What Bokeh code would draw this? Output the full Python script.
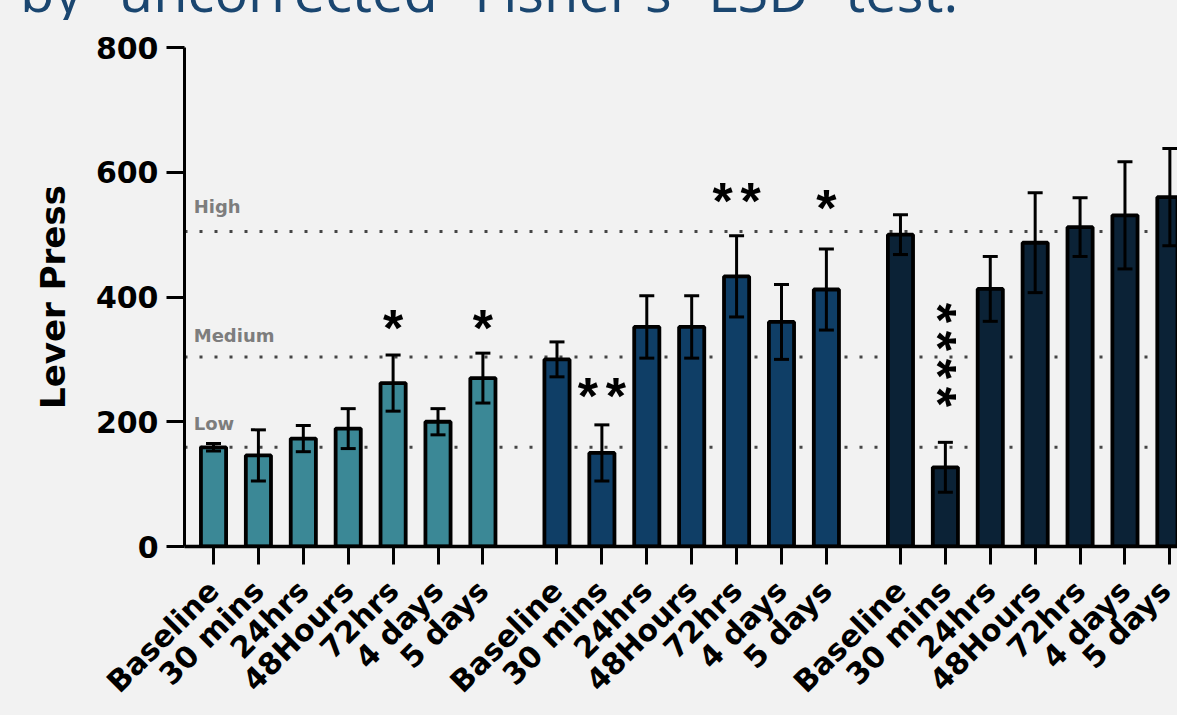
import math

from bokeh.core.properties import value
from bokeh.embed import file_html
from bokeh.layouts import column
from bokeh.models import ColumnDataSource, Div, FixedTicker, Label, Range1d, Span, TeeHead, Whisker
from bokeh.plotting import figure
from bokeh.resources import INLINE

# Time points, repeated for each of the three dose groups
timepoints = ["Baseline", "30 mins", "24hrs", "48Hours", "72hrs", "4 days", "5 days"]

# Mean lever presses and SEM per group
low_mean = [159, 146, 173, 189, 262, 200, 270]
low_sem = [6, 41, 21, 32, 45, 21, 40]
medium_mean = [300, 150, 352, 352, 433, 360, 412]
medium_sem = [28, 45, 50, 50, 65, 60, 65]
high_mean = [500, 127, 413, 487, 512, 531, 560]
high_sem = [32, 40, 52, 80, 47, 86, 78]

# Reference levels (baseline of each group)
level_names = ["Low", "Medium", "High"]
level_values = [159, 304, 505]

# Significance marks: text, group index, bar index, height
star_text = ["*", "*", "**", "**", "*", "****"]
star_group = [0, 0, 1, 1, 1, 2]
star_bar = [4, 6, 1, 4, 6, 1]
star_y = [359, 359, 250, 562, 551, 304]

caption = "by uncorrected Fisher's LSD test."

group_colors = ["#3b8896", "#0f3e66", "#0b2236"]
GROUP_STEP = 7.65
BG = "#f2f2f2"
FONT = "DejaVu Sans"
STAR_FONT = "Liberation Sans"
W = 1177
CAPTION_H = 20
STAR_PITCH = 28  # px between neighbouring asterisks

groups = [(low_mean, low_sem), (medium_mean, medium_sem), (high_mean, high_sem)]

# Caption line from the slide text, running off the top of the page
cap = Div(
    text=('<div style="margin:-44px 0 0 20px;padding:0;font-family:\'Open Sans\';'
          'font-size:56px;line-height:56px;color:#1a4670;white-space:nowrap;'
          f'word-spacing:22px;">{caption}</div>'),
    width=W, height=CAPTION_H,
    styles={"overflow": "hidden", "background-color": BG, "margin": "0", "padding": "0"},
)

p = figure(
    width=W, height=715 - CAPTION_H,
    x_range=Range1d(-0.646, 21.47), y_range=Range1d(0, 800),
    output_backend="svg", toolbar_location=None,
    min_border_left=184, min_border_right=0, min_border_top=47 - CAPTION_H,
    min_border_bottom=169,
)
p.background_fill_color = BG
p.border_fill_color = BG
p.outline_line_color = None
p.xgrid.visible = False
p.ygrid.visible = False

# Dotted reference lines with their small labels
label_offsets = [24, 21, 25]
for name, lvl, off in zip(level_names, level_values, label_offsets):
    p.add_layout(Span(location=lvl, dimension="width", line_color="#454545",
                      line_width=3, line_dash="3 12", level="underlay"))
    p.add_layout(Label(x=-0.44, y=lvl, text=name, y_offset=off,
                       text_font=FONT, text_font_style="bold", text_font_size="18px",
                       text_color="#7d7d7d", text_baseline="alphabetic"))

tick_pos = []
tick_labels = {}
for g, (means, sems) in enumerate(groups):
    xs = [g * GROUP_STEP + i for i in range(len(means))]
    src = ColumnDataSource(dict(
        x=xs, top=means,
        lower=[m - s for m, s in zip(means, sems)],
        upper=[m + s for m, s in zip(means, sems)],
    ))
    p.vbar(x="x", top="top", bottom=0, width=0.56, source=src,
           fill_color=group_colors[g], line_color="black", line_width=3.8)
    w = Whisker(base="x", lower="lower", upper="upper", source=src,
                line_color="black", line_width=3, level="annotation",
                lower_head=TeeHead(size=15, line_color="black", line_width=3),
                upper_head=TeeHead(size=15, line_color="black", line_width=3))
    p.add_layout(w)
    for x, lab in zip(xs, timepoints):
        tick_pos.append(x)
        tick_labels[x] = lab

# Significance asterisks: pairs run across, the long run of four is stacked upright
flat = dict(x=[], y=[], xo=[], yo=[], t=[])
upright = dict(x=[], y=[], xo=[], yo=[], t=[])
for txt, g, b, y in zip(star_text, star_group, star_bar, star_y):
    x = g * GROUP_STEP + b
    n = len(txt)
    for k, ch in enumerate(txt):
        shift = (k - (n - 1) / 2) * STAR_PITCH
        if n > 2:
            upright["x"].append(x); upright["y"].append(y); upright["t"].append(ch)
            upright["xo"].append(-7); upright["yo"].append(shift - 2)
        else:
            flat["x"].append(x); flat["y"].append(y); flat["t"].append(ch)
            flat["xo"].append(shift); flat["yo"].append(5)

star_style = dict(text_font=value(STAR_FONT), text_font_style="bold",
                  text_font_size="52px", text_color="black",
                  text_align="center", text_baseline="middle")
p.text(x="x", y="y", text="t", x_offset="xo", y_offset="yo",
       source=ColumnDataSource(flat), **star_style)
p.text(x="x", y="y", text="t", x_offset="xo", y_offset="yo", angle=-math.pi / 2,
       source=ColumnDataSource(upright), **star_style)

# Axes
p.yaxis.ticker = FixedTicker(ticks=[0, 200, 400, 600, 800])
p.yaxis.minor_tick_line_color = None
p.yaxis.major_tick_in = 0
p.yaxis.major_tick_out = 18
p.yaxis.major_tick_line_width = 3
p.yaxis.axis_line_width = 3
p.yaxis.major_label_text_font = FONT
p.yaxis.major_label_text_font_style = "bold"
p.yaxis.major_label_text_font_size = "30px"
p.yaxis.major_label_text_color = "black"
p.yaxis.major_label_standoff = 8
p.yaxis.axis_label = "Lever Press"
p.yaxis.axis_label_text_font = FONT
p.yaxis.axis_label_text_font_style = "bold"
p.yaxis.axis_label_text_font_size = "34px"
p.yaxis.axis_label_text_color = "black"
p.yaxis.axis_label_standoff = 20

p.xaxis.ticker = FixedTicker(ticks=tick_pos)
p.xaxis.major_label_overrides = tick_labels
p.xaxis.minor_tick_line_color = None
p.xaxis.major_tick_in = 0
p.xaxis.major_tick_out = 18
p.xaxis.major_tick_line_width = 3
p.xaxis.axis_line_width = 3.5
p.xaxis.major_label_orientation = math.pi / 4
p.xaxis.major_label_text_font = FONT
p.xaxis.major_label_text_font_style = "bold"
p.xaxis.major_label_text_font_size = "30px"
p.xaxis.major_label_text_color = "black"
p.xaxis.major_label_standoff = 21

layout = column(cap, p, spacing=0)
layout.styles = {"background-color": BG}

open("out.html", "w").write(file_html(layout, INLINE))
